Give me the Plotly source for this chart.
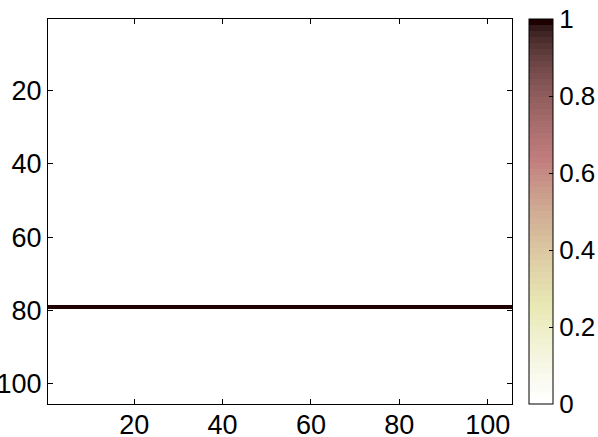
import numpy as np
import plotly.graph_objects as go

# 105x105 matrix, one row switched on
n_rows = 105
n_cols = 105
active_row = 79
active_value = 1.0

tick_vals = [20, 40, 60, 80, 100]
cbar_ticks = [0, 0.2, 0.4, 0.6, 0.8, 1]
cbar_labels = ["0", "0.2", "0.4", "0.6", "0.8", "1"]

z = np.zeros((n_rows, n_cols))
z[active_row - 1, :] = active_value


def matlab_pink(m=64):
    """MATLAB pink(m) colormap: sqrt((2*gray + hot)/3)"""
    n = int(3 * m / 8)
    r = np.concatenate([np.arange(1, n + 1) / n, np.ones(m - n)])
    g = np.concatenate([np.zeros(n), np.arange(1, n + 1) / n, np.ones(m - 2 * n)])
    b = np.concatenate([np.zeros(2 * n), np.arange(1, m - 2 * n + 1) / (m - 2 * n)])
    hot = np.stack([r, g, b], axis=1)
    gray = np.linspace(0, 1, m)[:, None]
    return np.sqrt((2 * gray + hot) / 3)


cmap = matlab_pink(64)[::-1]  # flipped: white -> black
colorscale = []
m = len(cmap)
for i, c in enumerate(cmap):
    col = "rgb(%d,%d,%d)" % tuple(int(round(v * 255)) for v in c)
    colorscale.append([i / m, col])
    colorscale.append([(i + 1) / m, col])

plot_l, plot_r = 48, 512
plot_w = plot_r - plot_l
# canvas a bit wider than the window so the colorbar labels never squeeze the plot
canvas_w = 640

fig = go.Figure()
fig.add_trace(go.Heatmap(
    z=z,
    x=np.arange(1, n_cols + 1),
    y=np.arange(1, n_rows + 1),
    zmin=0,
    zmax=1,
    colorscale=colorscale,
    colorbar=dict(
        x=(529.5 - plot_l) / plot_w,
        xanchor="left",
        y=0.5,
        len=1.0,
        thickness=24,
        outlinecolor="black",
        outlinewidth=1,
        tickvals=cbar_ticks,
        ticktext=cbar_labels,
        ticks="inside",
        ticklen=4,
        tickcolor="black",
        tickfont=dict(size=26, color="black"),
        xpad=0,
        ypad=0,
    ),
))

axis_common = dict(
    showline=True,
    linecolor="black",
    linewidth=1,
    mirror="ticks",
    ticks="inside",
    ticklen=5,
    tickcolor="black",
    tickvals=tick_vals,
    tickfont=dict(size=27, color="black"),
    showgrid=False,
    zeroline=False,
    automargin=False,
)

fig.update_xaxes(range=[0.5, n_cols + 0.5], ticklabelstandoff=-3, **axis_common)
fig.update_yaxes(range=[n_rows + 0.5, 0.5], **axis_common)

fig.update_layout(
    width=canvas_w,
    height=437,
    margin=dict(l=plot_l, r=canvas_w - plot_r, t=19, b=33),
    paper_bgcolor="white",
    plot_bgcolor="white",
    font=dict(family="Liberation Sans, Arial, sans-serif", color="black"),
)

# drop the default page margin / scrollbars so the figure sits at the window corner
fig.write_html(
    "out.html",
    config={"displayModeBar": False},
    post_script="document.body.style.margin='0';document.body.style.overflow='hidden';",
)
